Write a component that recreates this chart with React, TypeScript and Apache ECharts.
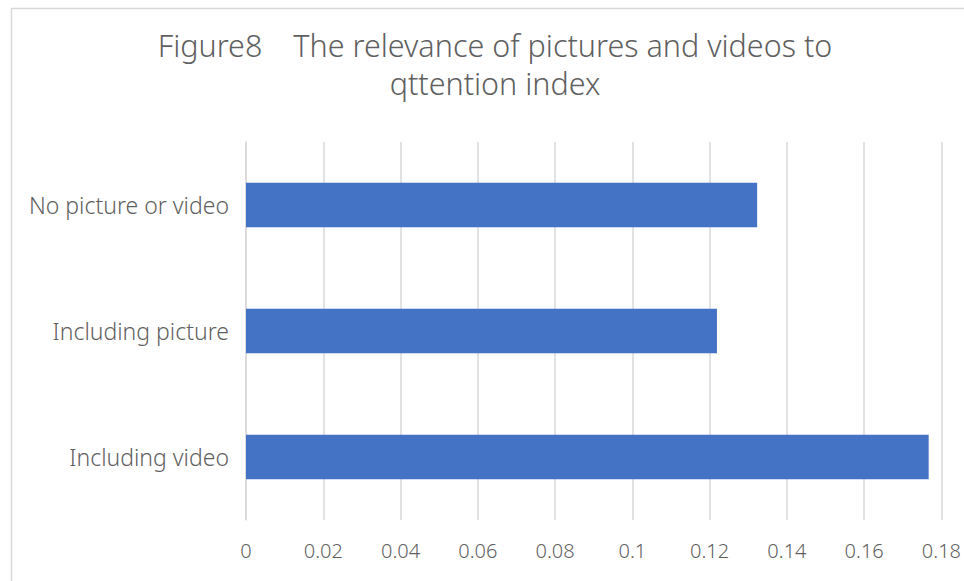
import React, { useEffect, useRef } from "react";
import * as echarts from "echarts";

const titleText = "Figure8\u3000The relevance of pictures and videos to\nqttention index";
const categories = ["Including video", "Including picture", "No picture or video"];
const values = [0.1767, 0.1219, 0.1323];
const xMin = 0;
const xMax = 0.18;
const xInterval = 0.02;

export default function App() {
  const ref = useRef<HTMLDivElement>(null);
  useEffect(() => {
    document.body.style.margin = "0";
    const chart = echarts.init(ref.current!, null, { renderer: "svg" });
    const font = "Noto Sans";
    const textColor = "#5f5f5f";
    chart.setOption({
      animation: false,
      backgroundColor: "#ffffff",
      textStyle: { fontFamily: font },
      title: {
        text: titleText,
        left: 490,
        textAlign: "center",
        top: 21,
        textStyle: {
          fontFamily: font,
          fontSize: 30.5,
          fontWeight: 300,
          color: textColor,
          lineHeight: 38,
        },
      },
      graphic: [
        {
          type: "rect",
          shape: { x: 11.5, y: 8.5, width: 1000, height: 700 },
          style: { fill: "none", stroke: "#d9d9d9", lineWidth: 1.5 },
          silent: true,
          z: -1,
        },
      ],
      grid: { left: 246, right: 22, top: 142, bottom: 61, containLabel: false },
      xAxis: {
        type: "value",
        min: xMin,
        max: xMax,
        interval: xInterval,
        axisLine: { show: false },
        axisTick: { show: false },
        splitLine: { show: true, lineStyle: { color: "#d9d9d9", width: 1.5 } },
        axisLabel: {
          fontFamily: font,
          fontSize: 20,
          fontWeight: 300,
          color: textColor,
          margin: 20,
          formatter: (v: number) => String(Math.round(v * 100) / 100),
        },
      },
      yAxis: {
        type: "category",
        data: categories,
        axisLine: { show: true, lineStyle: { color: "#d9d9d9", width: 1.5 } },
        axisTick: { show: false },
        axisLabel: { fontFamily: font, fontSize: 23, fontWeight: 300, color: textColor, margin: 17 },
      },
      series: [
        {
          type: "bar",
          data: values,
          barWidth: "35.5%",
          itemStyle: { color: "#4472C4" },
        },
      ],
    });
    return () => chart.dispose();
  }, []);
  return <div ref={ref} style={{ width: 964, height: 581 }} />;
}
